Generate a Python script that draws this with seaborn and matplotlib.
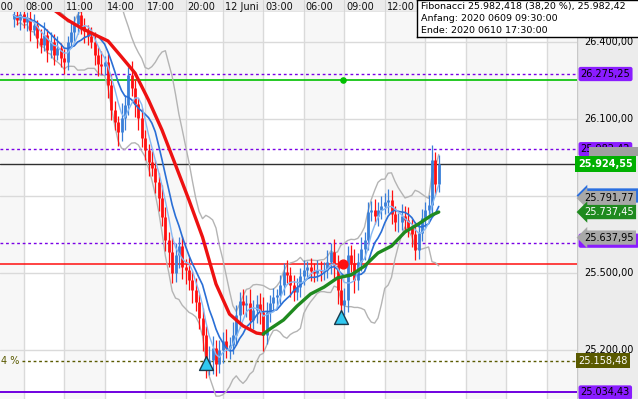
import numpy as np
import pandas as pd
import matplotlib
matplotlib.use("Agg")
import matplotlib.pyplot as plt
import matplotlib.transforms as mtrans
from matplotlib.patches import Rectangle
import seaborn as sns

# ---------------- data ----------------
close = [26505, 26486, 26509, 26478, 26493, 26447, 26466, 26416, 26388, 26427,
         26369, 26400, 26349, 26377, 26338, 26322, 26400, 26439, 26470, 26505,
         26462, 26443, 26423, 26400, 26349, 26314, 26306, 26322, 26232, 26135,
         26088, 26049, 26104, 26155, 26271, 26221, 26158, 26104, 26026, 25979,
         25932, 25909, 25855, 25792, 25718, 25629, 25582, 25500, 25570, 25605,
         25523, 25512, 25473, 25434, 25387, 25325, 25258, 25142, 25161, 25208,
         25145, 25200, 25235, 25208, 25220, 25258, 25336, 25391, 25375, 25383,
         25317, 25356, 25379, 25348, 25258, 25348, 25383, 25407, 25414, 25453,
         25504, 25492, 25453, 25426, 25445, 25488, 25512, 25523, 25508, 25500,
         25512, 25508, 25512, 25543, 25582, 25531, 25434, 25375, 25395, 25570,
         25539, 25473, 25543, 25594, 25629, 25738, 25745, 25722, 25745, 25761,
         25777, 25784, 25730, 25699, 25699, 25722, 25707, 25675, 25652, 25590,
         25656, 25714, 25745, 25765, 25940, 25847, 25924.55]
first_open = 26490
wick_up = [20, 35, 15, 40, 25, 30, 45, 20, 35, 50, 25, 40, 30, 45, 20, 35, 25, 40, 30, 20,
           45, 30, 25, 35, 40, 30, 50, 25, 30, 45, 35, 25, 60, 40, 30, 55, 35, 25, 40, 30,
           25, 45, 30, 35, 50, 40, 30, 60, 45, 35, 40, 30, 50, 35, 45, 30, 40, 35, 55, 45,
           30, 40, 35, 45, 30, 50, 40, 35, 45, 30, 55, 40, 35, 45, 60, 40, 30, 35, 25, 40,
           35, 45, 30, 40, 35, 30, 40, 25, 35, 30, 40, 35, 30, 45, 35, 50, 40, 60, 45, 35,
           40, 55, 35, 45, 30, 40, 35, 45, 30, 40, 35, 45, 40, 30, 35, 45, 40, 50, 35, 45,
           40, 35, 30, 40, 60, 30, 35]
wick_dn = [30, 20, 40, 25, 35, 45, 20, 40, 30, 25, 45, 30, 40, 20, 35, 45, 30, 25, 35, 40,
           30, 45, 35, 25, 40, 45, 30, 35, 50, 40, 30, 55, 35, 45, 40, 30, 50, 45, 35, 40,
           55, 30, 45, 50, 35, 45, 60, 40, 35, 50, 45, 55, 40, 50, 35, 45, 60, 50, 40, 55,
           45, 35, 50, 40, 45, 35, 40, 50, 35, 45, 40, 35, 50, 45, 60, 35, 40, 30, 45, 35,
           40, 30, 45, 35, 30, 40, 35, 30, 40, 35, 30, 40, 35, 30, 45, 50, 55, 60, 40, 45,
           35, 50, 40, 35, 45, 40, 35, 30, 40, 35, 30, 45, 40, 35, 40, 30, 45, 35, 50, 40,
           35, 30, 40, 35, 30, 45, 30]

trend_idx = [12, 16, 20, 24, 28, 32, 36, 40, 44, 48, 52, 56, 60, 64, 68, 72, 74,
             76, 80, 84, 88, 92, 96, 100, 104, 108, 112, 116, 120, 124, 126]
trend_val = [26525, 26486, 26455, 26429, 26404, 26342, 26279, 26174, 26057, 25921,
             25784, 25640, 25457, 25340, 25294, 25266, 25262,
             25282, 25317, 25371, 25418, 25445, 25481, 25492, 25527, 25578,
             25605, 25660, 25691, 25726, 25737.45]
trend_turn = 74

signal_idx = [57, 97]
signal_price = [25150, 25330]

fib_top = 26275.25
green_level = 26252
fib_2 = 25982.42
last_price = 25924.55
fib_3 = 25617
red_level = 25535
olive_level = 25158.48
fib_bottom = 25034.43
anchor_idx = 97.6

tick_idx = [-9, 3, 15, 27, 39, 51, 62, 74, 86, 98, 110, 122, 134, 146, 158]
tick_lab = ["05:00", "08:00", "11:00", "14:00", "17:00", "20:00", "12 Juni",
            "03:00", "06:00", "09:00", "12:00", "", "", "", ""]
grid_prices = [26700, 26400, 26100, 25800, 25500, 25200]
axis_labels = {26400: "26.400,00", 26100: "26.100,00", 25500: "25.500,00",
               25200: "25.200,00"}

# ---------------- frames ----------------
df = pd.DataFrame({"i": np.arange(len(close)), "close": close})
df["open"] = [first_open] + close[:-1]
df["high"] = df[["open", "close"]].max(axis=1) + np.array(wick_up)
df["low"] = df[["open", "close"]].min(axis=1) - np.array(wick_dn)
s = df["close"]
df["ma_fast"] = s.rolling(5, min_periods=1).mean()
df["ma_slow"] = s.rolling(9, min_periods=1).mean()
mid = s.rolling(12, min_periods=2).mean()
sd = s.rolling(12, min_periods=2).std()
df["bb_up"] = mid + 2 * sd
df["bb_lo"] = mid - 2 * sd
tr = pd.DataFrame({"i": trend_idx, "v": trend_val})

sns.set_theme(style="white")
plt.rcParams["font.family"] = ["DejaVu Sans"]

W, H = 638, 399
fig = plt.figure(figsize=(W / 100, H / 100), dpi=100)
fig.patch.set_facecolor("white")

px = lambda x: x / W
py = lambda y: 1 - y / H
XL = (-4, (577 - 13.5) / 3.375)
YL = (26100 - (399 - 119) / 0.25667, 26100 + (119 - 12) / 0.25667)

ax = fig.add_axes([0, 0, px(577), (H - 12) / H])
ax.set_xlim(*XL)
ax.set_ylim(*YL)
ax.set_facecolor("white")
for sp in ax.spines.values():
    sp.set_visible(False)
ax.set_xticks([]); ax.set_yticks([])

# alternating column stripes
for k in range(len(tick_idx) - 1):
    if k % 2 == 0:
        ax.axvspan(tick_idx[k], tick_idx[k + 1], color="#f7f7f7", lw=0, zorder=0)
ax.axvspan(tick_idx[-1], XL[1] + 5, color="#f7f7f7", lw=0, zorder=0)
for t in tick_idx:
    ax.axvline(t, color="#dadada", lw=1.0, zorder=0.5)
for g in grid_prices:
    ax.axhline(g, color="#dadada", lw=1.0, zorder=0.5)

# level lines
ax.axhline(fib_top, color="#7a00e6", lw=1.0, ls=(0, (2, 2)), zorder=1)
ax.axhline(green_level, color="#00c000", lw=1.2, zorder=1)
ax.axhline(fib_2, color="#7a00e6", lw=1.0, ls=(0, (2, 2)), zorder=1)
ax.axhline(last_price, color="#303030", lw=1.0, zorder=1)
ax.axhline(fib_3, color="#7a00e6", lw=1.0, ls=(0, (2, 2)), zorder=1)
ax.axhline(red_level, color="#ff1010", lw=1.1, zorder=1)
ax.axhline(olive_level, color="#5a5a00", lw=1.0, ls=(0, (2, 2)), zorder=1,
           xmin=0.038)
ax.axhline(fib_bottom, color="#7000e0", lw=1.4, zorder=1)
ax.text(0.002, olive_level, "4 %", transform=mtrans.blended_transform_factory(ax.transAxes, ax.transData),
        ha="left", va="center", fontsize=7, color="#5a5a00")

# bands
sns.lineplot(data=df, x="i", y="bb_up", ax=ax, color="#b4b4b4", lw=1.0, zorder=2)
sns.lineplot(data=df, x="i", y="bb_lo", ax=ax, color="#b4b4b4", lw=1.0, zorder=2)

# candles
up = df["close"] >= df["open"]
for mask, col in ((up, "#3a7fd8"), (~up, "#ff1010")):
    ax.vlines(df["i"][mask], df["low"][mask], df["high"][mask], color=col, lw=0.9, zorder=3)
    ax.vlines(df["i"][mask], df["open"][mask], df["close"][mask], color=col, lw=2.0, zorder=3)

sns.lineplot(data=df, x="i", y="ma_slow", ax=ax, color="#2a6fd6", lw=1.2, zorder=4)
sns.lineplot(data=df, x="i", y="ma_fast", ax=ax, color="#86b8f2", lw=1.0, zorder=4)

sns.lineplot(data=tr[tr["i"] <= trend_turn], x="i", y="v", ax=ax, color="#ee1111", lw=2.4, zorder=5)
sns.lineplot(data=tr[tr["i"] >= trend_turn], x="i", y="v", ax=ax, color="#1f8a1f", lw=2.4, zorder=5)

ax.scatter([anchor_idx], [green_level], s=14, color="#00c000", zorder=6)
ax.scatter([anchor_idx], [red_level], s=40, color="#ff1010", zorder=6)
ax.scatter(signal_idx, signal_price, marker="^", s=100, color="#30c8f0",
           edgecolor="#1b3a4a", linewidth=1.0, zorder=6)
ax.set_xlabel(""); ax.set_ylabel("")
ax.set_xlim(*XL); ax.set_ylim(*YL)

# ---------------- header ----------------
axt = fig.add_axes([0, py(12), px(577), 12 / H])
axt.set_xlim(*XL); axt.set_ylim(0, 1)
axt.set_facecolor("#ececec")
axt.set_xticks([]); axt.set_yticks([])
for sp in axt.spines.values():
    sp.set_visible(False)
axt.axhline(0, color="#c4c4c4", lw=1.0)
for t, lab in zip(tick_idx, tick_lab):
    axt.axvline(t, color="#d6d6d6", lw=0.8)
    if lab:
        axt.text(t + 0.55, 0.45, lab, ha="left", va="center", fontsize=7, color="#111111",
                 clip_on=True)

# ---------------- right axis ----------------
axr = fig.add_axes([px(577), 0, px(W - 577), (H - 12) / H])
axr.set_ylim(*YL); axr.set_xlim(0, 1)
axr.set_facecolor("#ececec")
axr.set_xticks([]); axr.set_yticks([])
for sp in axr.spines.values():
    sp.set_visible(False)
axr.axvline(0, color="#c8c8c8", lw=1.0)
bt = mtrans.blended_transform_factory(axr.transAxes, axr.transData)
for g, lab in axis_labels.items():
    axr.text(0.12, g, lab, transform=bt, ha="left", va="center", fontsize=7, color="#000000")

HIDDEN = "\u2007" * 9


def tag(y, txt, fc, tc, style="round,pad=0.22", weight="normal", x=0.06, z=3):
    axr.text(x, y, txt, transform=bt, ha="left", va="center", fontsize=7, color=tc,
             fontweight=weight, clip_on=False, zorder=z,
             bbox=dict(boxstyle=style, fc=fc, ec="none"))


tag(fib_top, "26.275,25", "#8a1cff", "#000000")
tag(fib_2, "25.982,42", "#8a1cff", "#000000", z=3)
axr.add_patch(Rectangle((0.2, 25955), 0.9, 36, transform=bt, fc="#a0a0a0", ec="none",
                        zorder=4))
tag(last_price, "25.924,55", "#00b000", "white", style="square,pad=0.3", weight="bold",
    x=0.02, z=5)
tag(25802, HIDDEN, "#2a6fe0", "#2a6fe0", style="larrow,pad=0.22", x=0.12, z=3)
tag(25791.77, "25.791,77", "#a8a8a8", "#000000", style="larrow,pad=0.22", x=0.12, z=4)
tag(25737.45, "25.737,45", "#1f8a1f", "white", style="larrow,pad=0.22", x=0.12, z=5)
tag(25626, HIDDEN, "#8a1cff", "#8a1cff", z=3)
tag(25637.95, "25.637,95", "#a8a8a8", "#000000", style="larrow,pad=0.22", x=0.12, z=4)
tag(olive_level, "25.158,48", "#5a5a00", "white", style="square,pad=0.25", x=0.02)
tag(fib_bottom, "25.034,43", "#8a1cff", "#000000")

# ---------------- fibonacci info box ----------------
axb = fig.add_axes([px(417), py(37), px(W - 417 + 5), 37 / H])
axb.set_xticks([]); axb.set_yticks([])
axb.set_facecolor("white")
for sp in axb.spines.values():
    sp.set_color("#000000"); sp.set_linewidth(1.0)
axb.set_xlim(0, 1); axb.set_ylim(0, 37)
info = ["Fibonacci 25.982,418 (38,20 %), 25.982,42",
        "Anfang: 2020 0609 09:30:00",
        "Ende: 2020 0610 17:30:00"]
for k, line in enumerate(info):
    axb.text(0.018, 37 - 6.5 - 12 * k, line, ha="left", va="center", fontsize=6.8,
             color="#000000")

fig.savefig("out.png", dpi=100)
